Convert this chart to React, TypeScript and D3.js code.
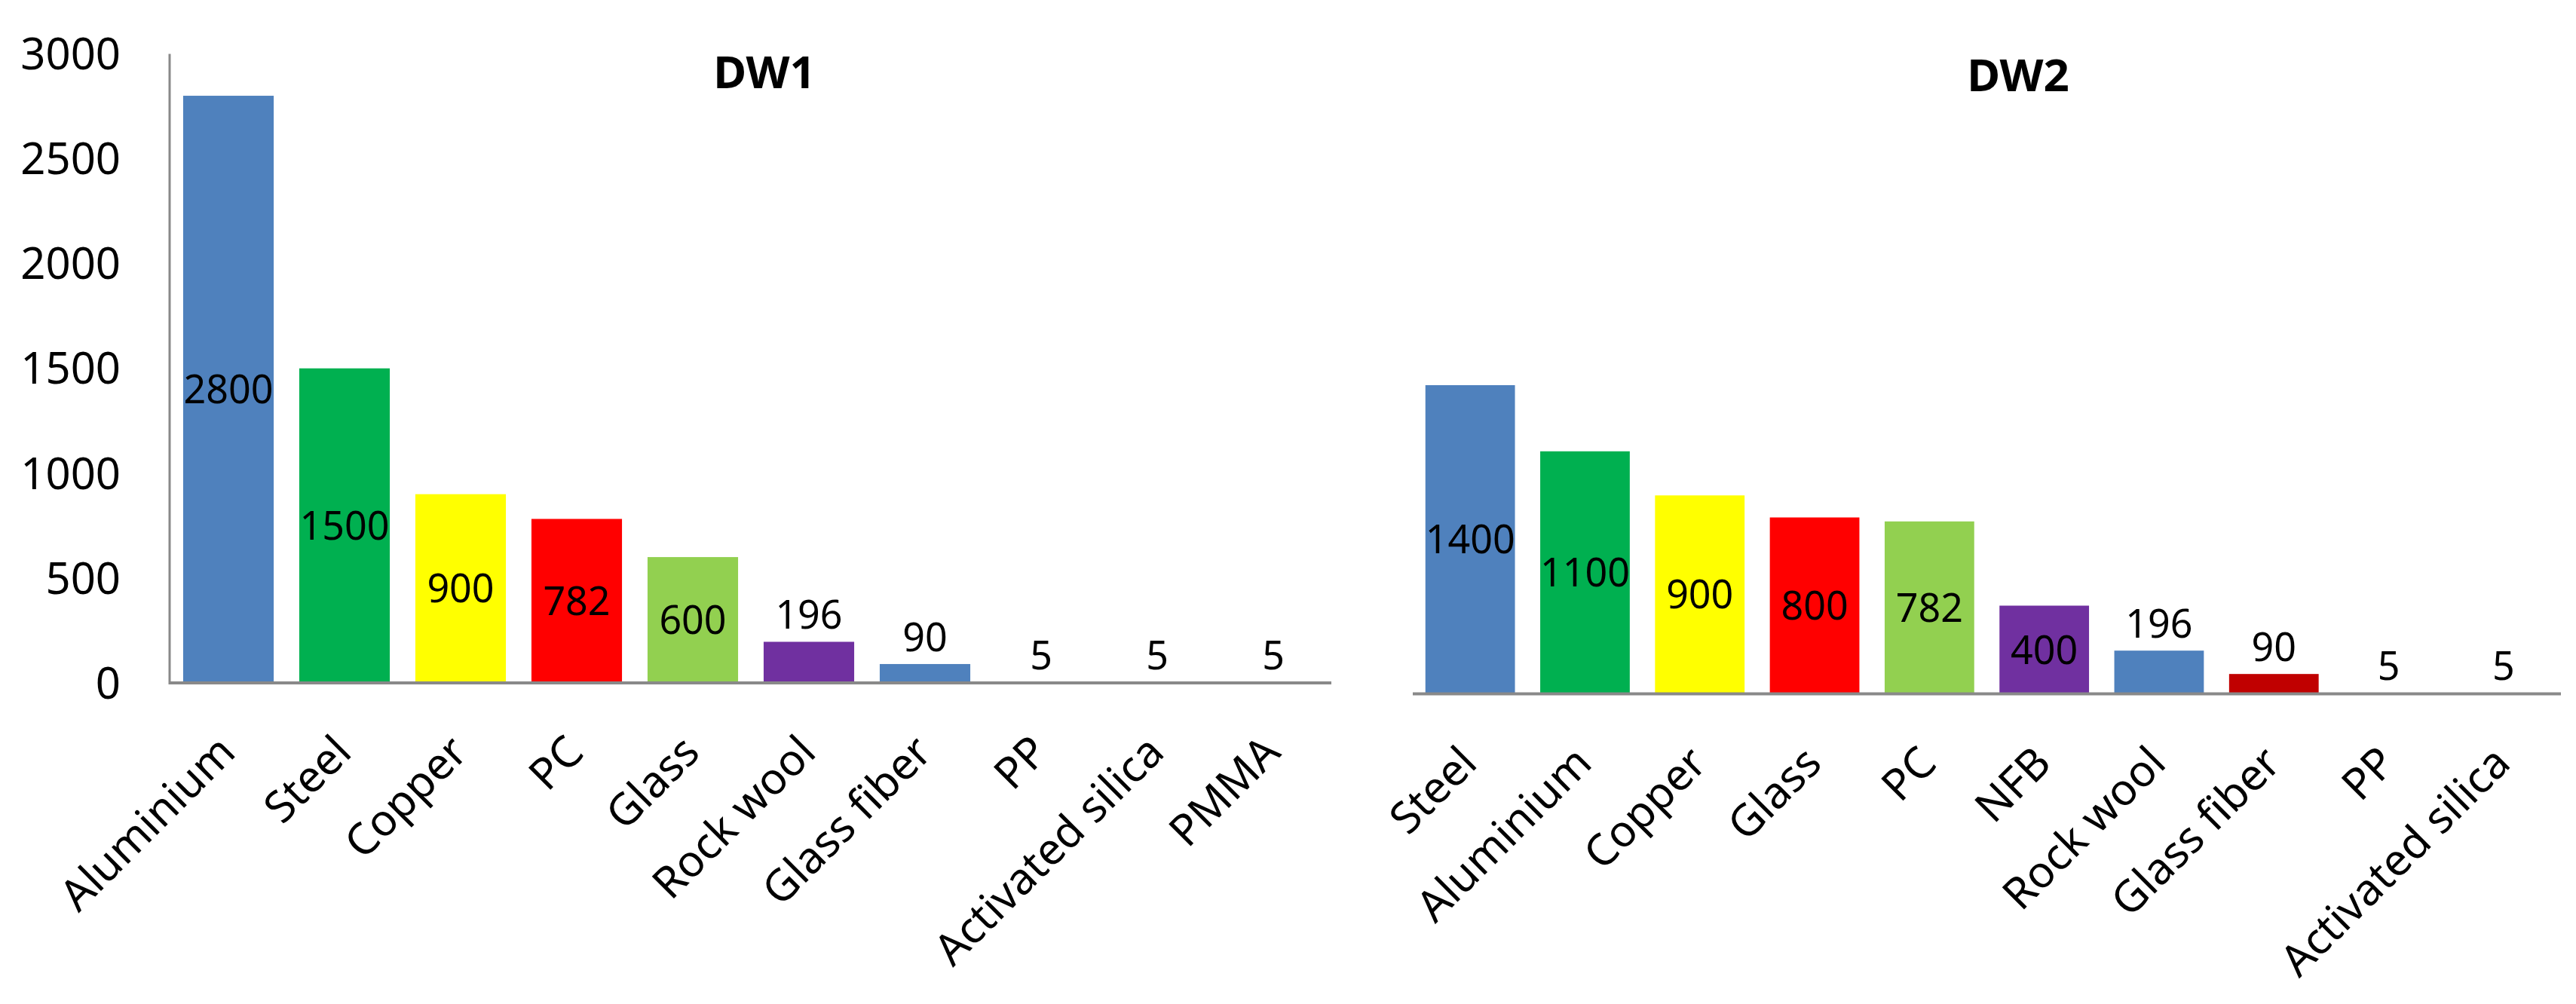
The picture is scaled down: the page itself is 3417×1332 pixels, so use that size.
import React from 'react';
import * as d3 from 'd3';

// ---- data ----
const dw1Categories = ['Aluminium', 'Steel', 'Copper', 'PC', 'Glass', 'Rock wool', 'Glass fiber', 'PP', 'Activated silica', 'PMMA'];
const dw1Values = [2800, 1500, 900, 782, 600, 196, 90, 5, 5, 5];
const dw1Colors = ['#4F81BD', '#00B050', '#FFFF00', '#FF0000', '#92D050', '#7030A0', '#4F81BD', '#4F81BD', '#4F81BD', '#4F81BD'];

const dw2Categories = ['Steel', 'Aluminium', 'Copper', 'Glass', 'PC', 'NFB', 'Rock wool', 'Glass fiber', 'PP', 'Activated silica'];
const dw2Values = [1400, 1100, 900, 800, 782, 400, 196, 90, 5, 5];
const dw2Colors = ['#4F81BD', '#00B050', '#FFFF00', '#FF0000', '#92D050', '#7030A0', '#4F81BD', '#C00000', '#4F81BD', '#4F81BD'];

const yTickValues = [0, 500, 1000, 1500, 2000, 2500, 3000];
const yDomain = [0, 3000];

const FONT = "'Noto Sans', 'Open Sans', sans-serif";
const AXIS_COLOR = '#898989';

type PanelProps = {
  title: string;
  categories: string[];
  values: number[];
  colors: string[];
  x0: number;
  x1: number;
  yZero: number;
  yTop: number;
  showYAxis: boolean;
  titleX: number;
  titleY: number;
};

function Panel({ title, categories, values, colors, x0, x1, yZero, yTop, showYAxis, titleX, titleY }: PanelProps) {
  const x = d3.scaleBand<string>().domain(categories).range([x0, x1]).paddingInner(0.22).paddingOuter(0.11);
  const y = d3.scaleLinear().domain(yDomain).range([yZero, yTop]);
  const labelSize = 52;
  const tickSize = 58;
  const catSize = 58;
  return (
    <g>
      {categories.map((c, i) => (
        <rect
          key={'b' + c}
          x={x(c)}
          y={y(values[i])}
          width={x.bandwidth()}
          height={yZero - y(values[i])}
          fill={colors[i]}
        />
      ))}
      {/* x axis */}
      <line x1={x0} x2={x1} y1={yZero} y2={yZero} stroke={AXIS_COLOR} strokeWidth={4} />
      {showYAxis && (
        <g>
          <line x1={x0 - 1} x2={x0 - 1} y1={y(3000)} y2={yZero + 2} stroke={AXIS_COLOR} strokeWidth={3} />
          {yTickValues.map((t) => (
            <text
              key={'t' + t}
              x={x0 - 66}
              y={y(t) + 0.357 * tickSize}
              textAnchor="end"
              fontSize={tickSize}
              fontFamily={FONT}
              fill="#000"
            >
              {t}
            </text>
          ))}
        </g>
      )}
      {/* data labels */}
      {categories.map((c, i) => {
        const top = y(values[i]);
        const h = yZero - top;
        const cx = (x(c) as number) + x.bandwidth() / 2;
        const inside = h > 80;
        const ty = inside ? (top + yZero) / 2 + 0.357 * labelSize : top - 17;
        return (
          <text key={'l' + c} x={cx} y={ty} textAnchor="middle" fontSize={labelSize} fontFamily={FONT} fill="#000">
            {values[i]}
          </text>
        );
      })}
      {/* category labels */}
      {categories.map((c) => {
        const cx = (x(c) as number) + x.bandwidth() / 2;
        return (
          <text
            key={'c' + c}
            transform={`translate(${cx + 12},${yZero + 95}) rotate(-45)`}
            textAnchor="end"
            fontSize={catSize}
            fontFamily={FONT}
            fill="#000"
          >
            {c}
          </text>
        );
      })}
      <text x={titleX} y={titleY} textAnchor="middle" fontSize={60} fontWeight="bold" fontFamily={FONT} fill="#000">
        {title}
      </text>
    </g>
  );
}

export default function App() {
  return (
    <>
      <style>{'body{margin:0;overflow:hidden;}'}</style>
      <svg
        width={3417}
        height={1332}
        viewBox="0 0 3417 1332"
        style={{ position: 'absolute', left: 0, top: 0, background: '#fff' }}
      >
        <rect x={0} y={0} width={3417} height={1332} fill="#fff" />
        <Panel
          title="DW1"
          categories={dw1Categories}
          values={dw1Values}
          colors={dw1Colors}
          x0={226}
          x1={1766}
          yZero={906}
          yTop={71.4}
          showYAxis={true}
          titleX={1014}
          titleY={117}
        />
        <Panel
          title="DW2"
          categories={dw2Categories}
          values={dw2Values}
          colors={dw2Colors}
          x0={1874}
          x1={3397}
          yZero={920.5}
          yTop={43}
          showYAxis={false}
          titleX={2677}
          titleY={121}
        />
      </svg>
    </>
  );
}
